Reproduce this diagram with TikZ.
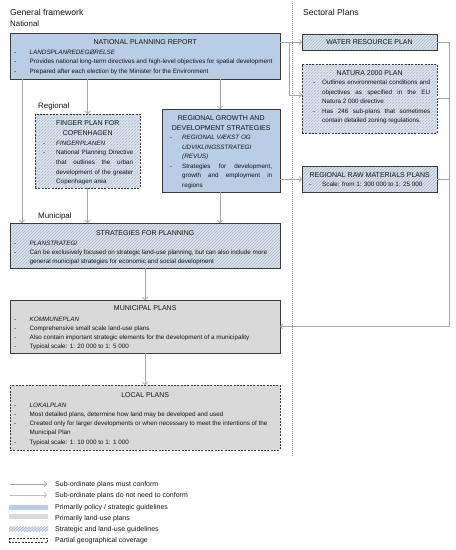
\documentclass[tikz,border=0pt]{standalone}
\usepackage{fontspec}
\setmainfont{Liberation Sans}
\usetikzlibrary{arrows.meta,patterns}
\definecolor{bluefill}{HTML}{B9CDE5}
\definecolor{grayfill}{HTML}{D9D9D9}
\definecolor{hatchbase}{HTML}{DCE3EC}
\definecolor{hatchline}{HTML}{A9B8CA}
\definecolor{edge}{HTML}{3A3A3A}
\definecolor{txtc}{HTML}{141414}
\definecolor{arr}{HTML}{A6A6A6}
\definecolor{arrb}{HTML}{BDBDBD}
\definecolor{sep}{HTML}{9A9A9A}
\newcommand\bl[1][15.5pt]{\makebox[#1][l]{-}}
\newcommand\jl[2]{\makebox[#1][s]{#2}}
\newcommand\hd[2]{{\fontsize{7}{9.3}\selectfont\makebox[#1][c]{#2}}}
\newcommand\gap[1]{\noalign{\kern#1}}
\newcommand\lns[1]{\vtop{\let\\\cr\halign{##\hfil\cr#1\crcr}}}
\begin{document}
\begin{tikzpicture}[x=1pt,y=-1pt,
  box/.style={draw=edge, line width=0.8pt, inner sep=0, outer sep=0},
  partial/.style={dash pattern=on 2pt off 1.3pt},
  policy/.style={fill=bluefill},
  landuse/.style={fill=grayfill},
  mixed/.style={pattern=north east lines, pattern color=hatchline, preaction={fill=hatchbase}},
  body/.style={inner sep=0, anchor=base west, text=txtc, font=\fontsize{6.3}{9.3}\selectfont},
  label/.style={inner sep=0, anchor=base west, text=txtc},
  link/.style={draw=arr, line width=0.7pt, -{Straight Barb[length=2.5pt,width=5.5pt]}},
  plain/.style={draw=arr, line width=0.7pt},
  linkb/.style={draw=arrb, line width=0.7pt, -{Straight Barb[length=2.5pt,width=5.5pt]}},
]
\useasboundingbox (0,0) rectangle (456,550);
\fill[white] (0,0) rectangle (456,550);

% separator
\draw[sep, line width=0.6pt, dash pattern=on 0.8pt off 1.2pt] (292,3) -- (292,456);

% labels
\node[label, font=\fontsize{8.6}{10}\selectfont] (lgf) at (10,15) {General framework};
\node[label, font=\fontsize{7.9}{10}\selectfont] (lnat) at (10,26.3) {National};
\node[label, font=\fontsize{8.6}{10}\selectfont] (lsec) at (303,15) {Sectoral Plans};
\node[label, font=\fontsize{7.9}{10}\selectfont] (lreg) at (38,108) {Regional};
\node[label, font=\fontsize{7.9}{10}\selectfont] (lmun) at (38,218) {Municipal};

% boxes
\node[box, policy, minimum width=270, minimum height=46] (npr) at (145,56) {};
\node[box, mixed, minimum width=135, minimum height=16] (water) at (369.5,42) {};
\node[box, mixed, partial, minimum width=135, minimum height=69] (natura) at (369.5,98.5) {};
\node[box, mixed, minimum width=135, minimum height=26] (raw) at (369.5,179) {};
\node[box, mixed, partial, minimum width=105, minimum height=74] (finger) at (87.5,151) {};
\node[box, policy, minimum width=118, minimum height=83] (rg) at (221,150.5) {};
\node[box, mixed, minimum width=270, minimum height=45] (strat) at (145,245.5) {};
\node[box, landuse, minimum width=270, minimum height=53] (muni) at (145,326.5) {};
\node[box, landuse, partial, minimum width=270, minimum height=65] (local) at (145,417.5) {};

% texts
\node[body] (npr-t) at (14,44.8) {\lns{\hd{262pt}{NATIONAL PLANNING REPORT}\\\gap{0.3pt}
\bl\textit{LANDSPLANREDEGØRELSE}\\
\bl Provides national long-term directives and high-level objectives for spatial development\\
\bl Prepared after each election by the Minister for the Environment}};

\node[body, anchor=base] (water-t) at (369.5,44.5) {\hd{130pt}{WATER RESOURCE PLAN}};

\node[body, font=\fontsize{6.3}{9.4}\selectfont] (natura-t) at (313,75.4) {\lns{\hd{113pt}{NATURA 2000 PLAN}\\
\bl[9pt]\jl{108pt}{Outlines environmental conditions and}\\
\hspace*{9pt}\jl{108pt}{objectives as specified in the EU}\\
\hspace*{9pt}Natura 2 000 directive\\
\bl[9pt]\jl{108pt}{Has 246 sub-plans that sometimes}\\
\hspace*{9pt}contain detailed zoning regulations.}};

\node[body, font=\fontsize{6.3}{9}\selectfont] (raw-t) at (309,177.5) {\lns{\hd{121pt}{REGIONAL RAW MATERIALS PLANS}\\
\bl[13pt]Scale: from 1: 300 000 to 1: 25 000}};

\node[body, font=\fontsize{6.3}{9.7}\selectfont] (finger-t) at (43,125.6) {\lns{\hd{89pt}{FINGER PLAN FOR}\\
\hd{89pt}{COPENHAGEN}\\
\bl[13pt]\textit{FINGERPLANEN}\\
\bl[13pt]\jl{77pt}{National Planning Directive}\\
\hspace*{13pt}\jl{77pt}{that outlines the urban}\\
\hspace*{13pt}\jl{77pt}{development of the greater}\\
\hspace*{13pt}Copenhagen area}};

\node[body, font=\fontsize{6.3}{9.5}\selectfont] (rg-t) at (170,120.6) {\lns{\hd{102pt}{REGIONAL GROWTH AND}\\
\hd{102pt}{DEVELOPMENT STRATEGIES}\\
\bl[12pt]\textit{REGIONAL VÆKST OG}\\
\hspace*{12pt}\textit{UDVIKLINGSSTRATEGI}\\
\hspace*{12pt}\textit{(REVUS)}\\
\bl[12pt]\jl{90pt}{Strategies for development,}\\
\hspace*{12pt}\jl{90pt}{growth and employment in}\\
\hspace*{12pt}regions}};

\node[body] (strat-t) at (14,235.5) {\lns{\hd{262pt}{STRATEGIES FOR PLANNING}\\\gap{0.2pt}
\bl\textit{PLANSTRATEGI}\\
\bl Can be exclusively focused on strategic land-use planning, but can also include more\\
\hspace*{15.5pt}general municipal strategies for economic and social development}};

\node[body, font=\fontsize{6.3}{9.2}\selectfont] (muni-t) at (14,310.8) {\lns{\hd{262pt}{MUNICIPAL PLANS}\\\gap{1.2pt}
\bl\textit{KOMMUNEPLAN}\\
\bl Comprehensive small scale land-use plans\\
\bl Also contain important strategic elements for the development of a municipality\\
\bl Typical scale: 1: 20 000 to 1: 5 000}};

\node[body, font=\fontsize{6.3}{9.2}\selectfont] (local-t) at (14,397.5) {\lns{\hd{262pt}{LOCAL PLANS}\\\gap{0.5pt}
\bl\textit{LOKALPLAN}\\
\bl Most detailed plans, determine how land may be developed and used\\
\bl Created only for larger developments or when necessary to meet the intentions of the\\
\hspace*{15.5pt}Municipal Plan\\
\bl Typical scale: 1: 10 000 to 1: 1 000}};

% helper coordinates
\coordinate (c22) at (22,0);
\coordinate (c88) at (87.5,0);
\coordinate (c220) at (220,0);
\coordinate (j1) at (289,42);
\coordinate (j2) at (289,95);

% connectors
\draw[link] (npr.south -| c22) -- (strat.north -| c22);
\draw[link] (npr.south -| c88) -- (finger.north);
\draw[link] (npr.south -| c220) -- (rg.north -| c220);
\draw[link] (finger.south) -- (strat.north -| finger.south);
\draw[link] (rg.south -| c220) -- (strat.north -| c220);
\draw[link] (strat.south) -- (muni.north);
\draw[link] (muni.south) -- (local.north);
\draw[link] (npr.east |- water.west) -- (water.west);
\draw[link] (j1) -- (j2) -- (natura.west |- j2);
\draw[link] (rg.east |- raw.west) -- (raw.west);
\draw[plain] (natura.east) -- ++(12,0);
\draw[plain] (raw.east) -- ++(12,0);
\draw[link] (water.east) -- ++(12,0) |- (muni.east);

% legend
\coordinate (l1a) at (10,484); \coordinate (l1b) at (47,484);
\coordinate (l2a) at (10,495); \coordinate (l2b) at (47,495);
\draw[link] (l1a) -- (l1b);
\draw[linkb] (l2a) -- (l2b);
\fill[bluefill] (9,505) rectangle (48,509.5);
\fill[grayfill] (9,514) rectangle (48,518.5);
\path[mixed] (9,526.5) rectangle (48,531);
\draw[edge, line width=0.7pt, partial] (9.5,538) rectangle (47.5,542.5);
\node[label, font=\fontsize{7}{9}\selectfont] (lg1) at (55,486.5) {Sub-ordinate plans must conform};
\node[label, font=\fontsize{7}{9}\selectfont] (lg2) at (55,497.5) {Sub-ordinate plans do not need to conform};
\node[label, font=\fontsize{7}{9}\selectfont] (lg3) at (55,509.5) {Primarily policy / strategic guidelines};
\node[label, font=\fontsize{7}{9}\selectfont] (lg4) at (55,520.5) {Primarily land-use plans};
\node[label, font=\fontsize{7}{9}\selectfont] (lg5) at (55,531.5) {Strategic and land-use guidelines};
\node[label, font=\fontsize{7}{9}\selectfont] (lg6) at (55,542.5) {Partial geographical coverage};
\end{tikzpicture}
\end{document}
